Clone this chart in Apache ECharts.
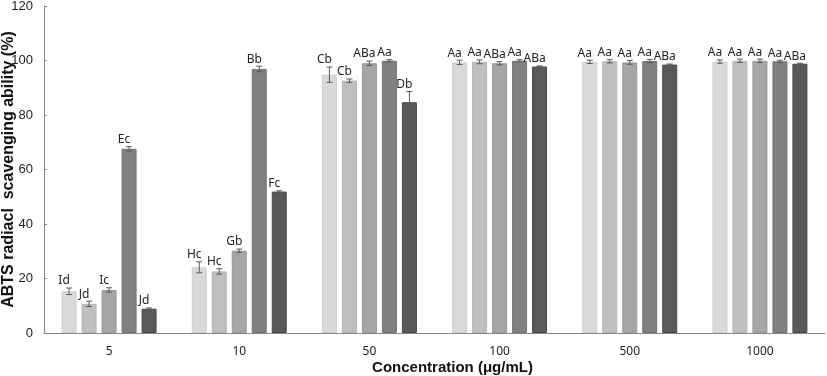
<!DOCTYPE html>
<html>
<head>
<meta charset="utf-8">
<script src="https://cdn.jsdelivr.net/npm/echarts@6/dist/echarts.min.js"></script>
<style>
  html, body { margin: 0; padding: 0; background: #fff; }
  #chart { width: 827px; height: 376px; }
</style>
</head>
<body>
<div id="chart"></div>
<script>
// concentrations (µg/mL)
const categories = ['5', '10', '50', '100', '500', '1000'];

// five samples, one array per sample
const sample1 = [15.3, 24.1, 94.8, 99.3, 99.5, 99.6];
const sample2 = [10.7, 22.6, 92.6, 99.5, 99.7, 99.9];
const sample3 = [15.8, 30.2, 99.0, 99.0, 99.3, 99.9];
const sample4 = [67.6, 96.9, 99.9, 99.9, 99.8, 99.7];
const sample5 = [8.9, 51.9, 84.7, 97.8, 98.5, 98.8];

const err1 = [1.2, 2.0, 2.8, 0.8, 0.6, 0.6];
const err2 = [1.0, 1.0, 0.6, 0.7, 0.6, 0.6];
const err3 = [0.8, 0.6, 0.8, 0.6, 0.7, 0.6];
const err4 = [0.8, 1.0, 0.4, 0.4, 0.6, 0.4];
const err5 = [0.3, 0.3, 3.9, 0.2, 0.2, 0.2];

const lab1 = ['Id', 'Hc', 'Cb', 'Aa', 'Aa', 'Aa'];
const lab2 = ['Jd', 'Hc', 'Cb', 'Aa', 'Aa', 'Aa'];
const lab3 = ['Ic', 'Gb', 'ABa', 'ABa', 'Aa', 'Aa'];
const lab4 = ['Ec', 'Bb', 'Aa', 'Aa', 'Aa', 'Aa'];
const lab5 = ['Jd', 'Fc', 'Db', 'ABa', 'ABa', 'ABa'];

const values = [sample1, sample2, sample3, sample4, sample5];
const errors = [err1, err2, err3, err4, err5];
const letters = [lab1, lab2, lab3, lab4, lab5];
const colors = ['#d9d9d9', '#bfbfbf', '#a6a6a6', '#808080', '#595959'];
const borders = ['#cfcfcf', '#b3b3b3', '#989898', '#737373', '#4a4a4a'];

const chart = echarts.init(document.getElementById('chart'));

const barW = 15, step = 20;

function errSeries(k) {
  return {
    type: 'custom',
    z: 10,
    silent: true,
    data: categories.map((c, j) => [j, values[k][j], errors[k][j]]),
    encode: { x: 0, y: 1 },
    renderItem: function (params, api) {
      const j = api.value(0), v = api.value(1), e = api.value(2);
      const top = api.coord([j, v + e]);
      const bot = api.coord([j, v - e]);
      const x = top[0] + (k - 2) * step;
      const capW = 3;
      const st = { stroke: '#595959', lineWidth: 1 };
      return {
        type: 'group',
        children: [
          { type: 'line', shape: { x1: x, y1: top[1], x2: x, y2: bot[1] }, style: st },
          { type: 'line', shape: { x1: x - capW, y1: top[1], x2: x + capW, y2: top[1] }, style: st },
          { type: 'line', shape: { x1: x - capW, y1: bot[1], x2: x + capW, y2: bot[1] }, style: st },
          {
            type: 'text',
            x: x - 5,
            y: top[1] - 1,
            style: {
              text: letters[k][params.dataIndex],
              textAlign: 'center',
              textVerticalAlign: 'bottom',
              font: '12px "Noto Sans", sans-serif',
              fill: '#222'
            }
          }
        ]
      };
    }
  };
}

const barSeries = values.map((vals, k) => ({
  type: 'bar',
  name: 'S' + (k + 1),
  data: vals,
  barWidth: barW,
  barGap: '33.3%',
  itemStyle: { color: colors[k], borderColor: borders[k], borderWidth: 1 }
}));

const option = {
  animation: false,
  grid: { left: 44, right: 2, top: 6, bottom: 43, containLabel: false, outerBoundsMode: 'none' },
  xAxis: {
    type: 'category',
    data: categories,
    name: 'Concentration (μg/mL)',
    nameLocation: 'middle',
    nameGap: 27,
    nameMoveOverlap: false,
    nameTextStyle: { fontFamily: 'Liberation Sans', fontWeight: 'bold', fontSize: 15, color: '#111', padding: [0, 0, 0, 36] },
    axisLine: { lineStyle: { color: '#868686', width: 1 } },
    axisTick: { inside: true, length: 3, lineStyle: { color: '#868686' } },
    axisLabel: { margin: 13, fontSize: 12, fontFamily: '"Noto Sans", sans-serif', color: '#222' }
  },
  yAxis: {
    type: 'value',
    min: 0,
    max: 120,
    interval: 20,
    name: 'ABTS radiacl  scavenging ability (%)',
    nameLocation: 'middle',
    nameGap: 27,
    nameMoveOverlap: false,
    nameTextStyle: { fontFamily: 'Liberation Sans', fontWeight: 'bold', fontSize: 16, color: '#111' },
    axisLine: { show: true, lineStyle: { color: '#868686', width: 1 } },
    axisTick: { show: true, inside: true, length: 3, lineStyle: { color: '#868686' } },
    splitLine: { show: false },
    axisLabel: { margin: 11, fontSize: 13, fontFamily: 'Liberation Sans', color: '#222' }
  },
  series: barSeries.concat(values.map((v, k) => errSeries(k)))
};

chart.setOption(option);
</script>
</body>
</html>
